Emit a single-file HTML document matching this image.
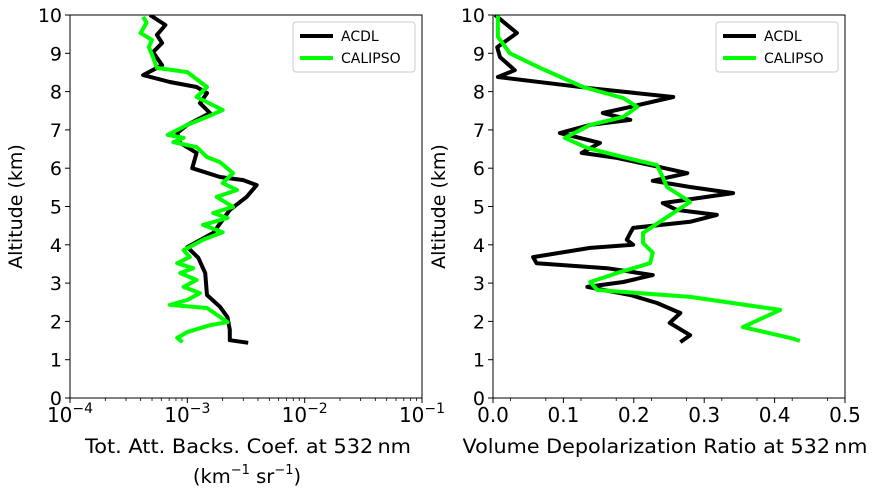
<!DOCTYPE html>
<html><head><meta charset="utf-8"><style>
html,body{margin:0;padding:0;background:#fff;}
svg{display:block;font-family:"DejaVu Sans","Liberation Sans",sans-serif;}
</style></head><body>
<svg id="c" width="876" height="495" viewBox="0 0 876 495"></svg>
<script>
// Left panel: backscatter (units 1e-3 km^-1 sr^-1), altitude km
const leftAcdlAlt = [10,9.74,9.48,9.27,9.03,8.69,8.43,8.25,8.12,7.96,7.7,7.44,7.13,6.92,6.66,6.4,6.0,5.77,5.69,5.56,5.25,4.91,4.31,3.94,3.66,3.26,2.69,2.38,2.11,1.78,1.51,1.44];
const leftAcdlVal = [0.48,0.65,0.55,0.61,0.51,0.61,0.42,0.71,1.2,1.47,1.28,1.56,1.0,0.82,0.87,1.2,1.1,1.9,3.0,3.9,3.2,2.3,1.66,1.0,1.24,1.42,1.47,1.9,2.2,2.3,2.3,3.3];
const leftCalAlt = [9.95,9.8,9.53,9.35,9.16,8.9,8.62,8.51,8.12,7.86,7.52,7.34,7.13,6.87,6.79,6.68,6.55,6.29,6.16,5.87,5.61,5.43,5.25,4.99,4.83,4.7,4.52,4.33,4.13,3.86,3.68,3.52,3.39,3.26,3.08,2.9,2.74,2.56,2.43,2.35,1.98,1.9,1.72,1.57,1.46];
const leftCalVal = [0.42,0.45,0.4,0.5,0.47,0.51,0.55,1.0,1.47,1.2,2.0,1.47,1.0,0.68,0.93,0.76,1.2,1.47,1.9,2.45,2.0,2.65,1.78,2.45,1.66,2.2,1.36,2.0,1.36,0.93,1.05,0.82,1.12,0.87,1.2,0.93,1.28,1.0,0.71,1.47,2.2,1.56,1.0,0.82,0.91];
// Right panel: depolarization ratio
const rightAcdlAlt = [10,9.53,9.16,8.9,8.56,8.38,8.09,7.86,7.6,7.44,7.26,7.13,6.92,6.66,6.4,6.27,6.03,5.87,5.67,5.51,5.35,5.09,4.91,4.78,4.6,4.44,4.31,4.13,4.0,3.92,3.68,3.52,3.39,3.21,3.03,2.9,2.69,2.48,2.22,1.96,1.64,1.46];
const rightAcdlVal = [0.003,0.034,0.006,0.01,0.031,0.007,0.138,0.256,0.195,0.156,0.195,0.138,0.095,0.152,0.126,0.176,0.237,0.276,0.227,0.28,0.341,0.241,0.261,0.318,0.28,0.199,0.195,0.19,0.199,0.138,0.057,0.062,0.162,0.227,0.185,0.134,0.195,0.233,0.266,0.251,0.28,0.266];
const rightCalAlt = [10,9.43,9.0,8.62,8.12,7.83,7.6,7.34,7.13,6.79,6.53,6.29,6.08,5.77,5.51,5.12,4.65,4.31,4.05,3.79,3.52,3.26,3.03,2.82,2.64,2.3,1.85,1.57,1.49];
const rightCalVal = [0.007,0.007,0.024,0.067,0.128,0.185,0.205,0.185,0.138,0.102,0.134,0.185,0.233,0.241,0.247,0.28,0.241,0.213,0.213,0.227,0.223,0.176,0.138,0.148,0.28,0.408,0.355,0.422,0.436];
const yTicks = [0,1,2,3,4,5,6,7,8,9,10];
const rightXTicks = ["0.0","0.1","0.2","0.3","0.4","0.5"];
const leftXExp = ["−4","−3","−2","−1"];

const NS="http://www.w3.org/2000/svg";
const svg=document.getElementById('c');
function mk(t,a,p){const e=document.createElementNS(NS,t);for(const k in a)e.setAttribute(k,a[k]);(p||svg).appendChild(e);return e;}
const T=15,B=398;
const yS=v=>B-(B-T)*v/10;
const L={x0:70,x1:422},R={x0:493,x1:845};
const xL=v=>L.x0+(L.x1-L.x0)*(Math.log10(v*1e-3)+4)/3;
const xR=v=>R.x0+(R.x1-R.x0)*v/0.5;

function panel(P,name){
  const g=mk('g',{});
  
  
  yTicks.forEach(v=>{
    const y=yS(v);
    mk('line',{x1:P.x0-5,x2:P.x0,y1:y,y2:y,stroke:'#000','stroke-width':1},g);
    const t=mk('text',{x:P.x0-8,y:y+7,'text-anchor':'end','font-size':19},g);t.textContent=v;
    
    
  });
  const yl=mk('text',{transform:`translate(${P.x0-48},${(T+B)/2}) rotate(-90)`,'text-anchor':'middle','font-size':19},g);
  yl.textContent='Altitude (km)';
  
  
  return g;
}
const gl=panel(L,'left-panel'), gr=panel(R,'right-panel');

for(let d=-4;d<=-1;d++){
  const x=L.x0+(L.x1-L.x0)*(d+4)/3;
  mk('line',{x1:x,x2:x,y1:B,y2:B+5,stroke:'#000'},gl);
  const t=mk('text',{x:x,y:B+24,'text-anchor':'middle','font-size':20},gl);
  t.innerHTML='10<tspan dy="-9" font-size="14">'+leftXExp[d+4]+'</tspan>';
  
  
  if(d<-1)for(let m=2;m<10;m++){const xm=x+(L.x1-L.x0)/3*Math.log10(m);mk('line',{x1:xm,x2:xm,y1:B,y2:B+3,stroke:'#000','stroke-width':0.8},gl);}
}
rightXTicks.forEach((s,i)=>{
  const x=xR(+s);
  mk('line',{x1:x,x2:x,y1:B,y2:B+5,stroke:'#000'},gr);
  const t=mk('text',{x:x,y:B+24,'text-anchor':'middle','font-size':20},gr);t.textContent=s;
  
  
});
for(let v=0.025;v<0.5;v+=0.05){const x=xR(v);mk('line',{x1:x,x2:x,y1:B,y2:B+3,stroke:'#000','stroke-width':0.8},gr);}

let t=mk('text',{x:248,y:453,'text-anchor':'middle','font-size':19.5,textLength:326,lengthAdjust:'spacingAndGlyphs'},gl);
t.textContent='Tot. Att. Backs. Coef. at 532\u2009nm';


t=mk('text',{x:(L.x0+L.x1)/2+1,y:483,'text-anchor':'middle','font-size':19.5},gl);
t.innerHTML='(km<tspan dy="-9" font-size="13">−1</tspan><tspan dy="9"> sr</tspan><tspan dy="-9" font-size="13">−1</tspan><tspan dy="9">)</tspan>';


t=mk('text',{x:665,y:453,'text-anchor':'middle','font-size':19.5,textLength:405,lengthAdjust:'spacingAndGlyphs'},gr);
t.textContent='Volume Depolarization Ratio at 532\u2009nm';



function line(alts,vals,xf,col,g,name){
  const d=alts.map((a,i)=>(i?'L':'M')+xf(vals[i]).toFixed(1)+','+yS(a).toFixed(1)).join('');
  const p=mk('path',{d:d,fill:'none',stroke:col,'stroke-width':4,'stroke-linejoin':'round'},g);
  
  
}
const cl=mk('g',{'clip-path':'url(#cpl)'},gl), cr=mk('g',{'clip-path':'url(#cpr)'},gr);
const defs=mk('defs',{});
const c1=mk('clipPath',{id:'cpl'},defs);mk('rect',{x:L.x0,y:T,width:L.x1-L.x0,height:B-T},c1);
const c2=mk('clipPath',{id:'cpr'},defs);mk('rect',{x:R.x0,y:T,width:R.x1-R.x0,height:B-T},c2);
line(leftAcdlAlt,leftAcdlVal,xL,'#000',cl,'acdl-backscatter-line');
line(leftCalAlt,leftCalVal,xL,'#00ff00',cl,'calipso-backscatter-line');
line(rightAcdlAlt,rightAcdlVal,xR,'#000',cr,'acdl-depol-line');
line(rightCalAlt,rightCalVal,xR,'#00ff00',cr,'calipso-depol-line');

[L,R].forEach((P,k)=>{
  const f=mk('rect',{x:P.x0,y:T,width:P.x1-P.x0,height:B-T,fill:'none',stroke:'#000','stroke-width':1},k?gr:gl);
  
  
  const lg=mk('g',{},k?gr:gl);
  
  
  const lx=P.x1-129,ly=22;
  mk('rect',{x:lx,y:ly,width:122,height:50,rx:3,fill:'#fff','fill-opacity':0.8,stroke:'#ccc'},lg);
  [['ACDL','#000'],['CALIPSO','#00ff00']].forEach(([n,c],i)=>{
    const y=ly+14+i*22;
    mk('line',{x1:lx+7,x2:lx+40,y1:y,y2:y,stroke:c,'stroke-width':4},lg);
    const tx=mk('text',{x:lx+48,y:y+5,'font-size':14},lg);tx.textContent=n;
    
    
  });
});
</script>
</body></html>
